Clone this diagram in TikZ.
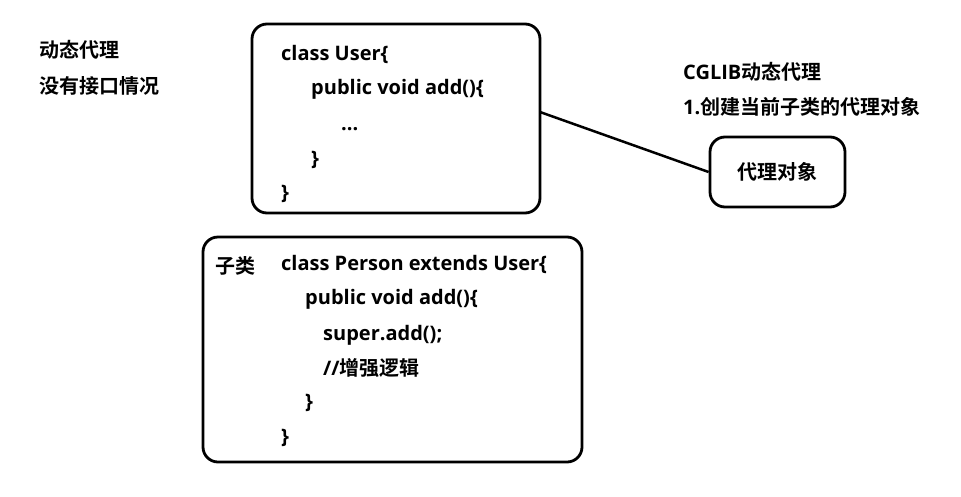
\documentclass[tikz,border=0pt]{standalone}
\usepackage{fontspec}
\setmainfont{Open Sans}
\newfontfamily\cjk{Noto Sans CJK SC}[BoldFont={* Bold},Scale=1.0]
\begin{document}
\begin{tikzpicture}[x=1pt,y=-1pt,
  txt/.style={anchor=base west,inner sep=0pt,font=\fontsize{20}{20}\selectfont\bfseries},
  rbox/.style={draw,line width=2.8pt,rounded corners=15pt}]
\useasboundingbox (0,0) rectangle (961,496);
% left labels
\node[txt] (l1) at (39,57) {\cjk 动态代理};
\node[txt] (l2) at (39,93) {\cjk 没有接口情况};
% box 1
\draw[rbox] (252,24) rectangle (540,213);
\coordinate (b1e) at (540,112);
\node[txt] (u1) at (281,60) {class User\{};
\node[txt] (u2) at (311,94) {public void add()\{};
\node[txt] (u3) at (341,130) {...};
\node[txt] (u4) at (311,165) {\}};
\node[txt] (u5) at (281,199) {\}};
% right labels
\node[txt] (c1) at (683,79) {CGLIB{\cjk 动态代理}};
\node[txt] (c2) at (683,114) {1.{\cjk 创建当前子类的代理对象}};
% proxy box
\node[rbox,minimum width=135pt,minimum height=70pt,inner sep=0pt,
  font=\fontsize{20}{20}\selectfont\bfseries\cjk] (px) at (777.5,172) {代理对象};
\draw[line width=2.5pt] (b1e) -- (px.west);
% box 2
\draw[rbox] (203,237) rectangle (582,462);
\node[txt] (z) at (215,273) {\cjk 子类};
\node[txt] (p1) at (281,270) {class Person extends User\{};
\node[txt] (p2) at (305,304) {public void add()\{};
\node[txt] (p3) at (323,340) {super.add();};
\node[txt] (p4) at (323,375) {//{\cjk 增强逻辑}};
\node[txt] (p5) at (305,408) {\}};
\node[txt] (p6) at (281,443) {\}};
\end{tikzpicture}
\end{document}
